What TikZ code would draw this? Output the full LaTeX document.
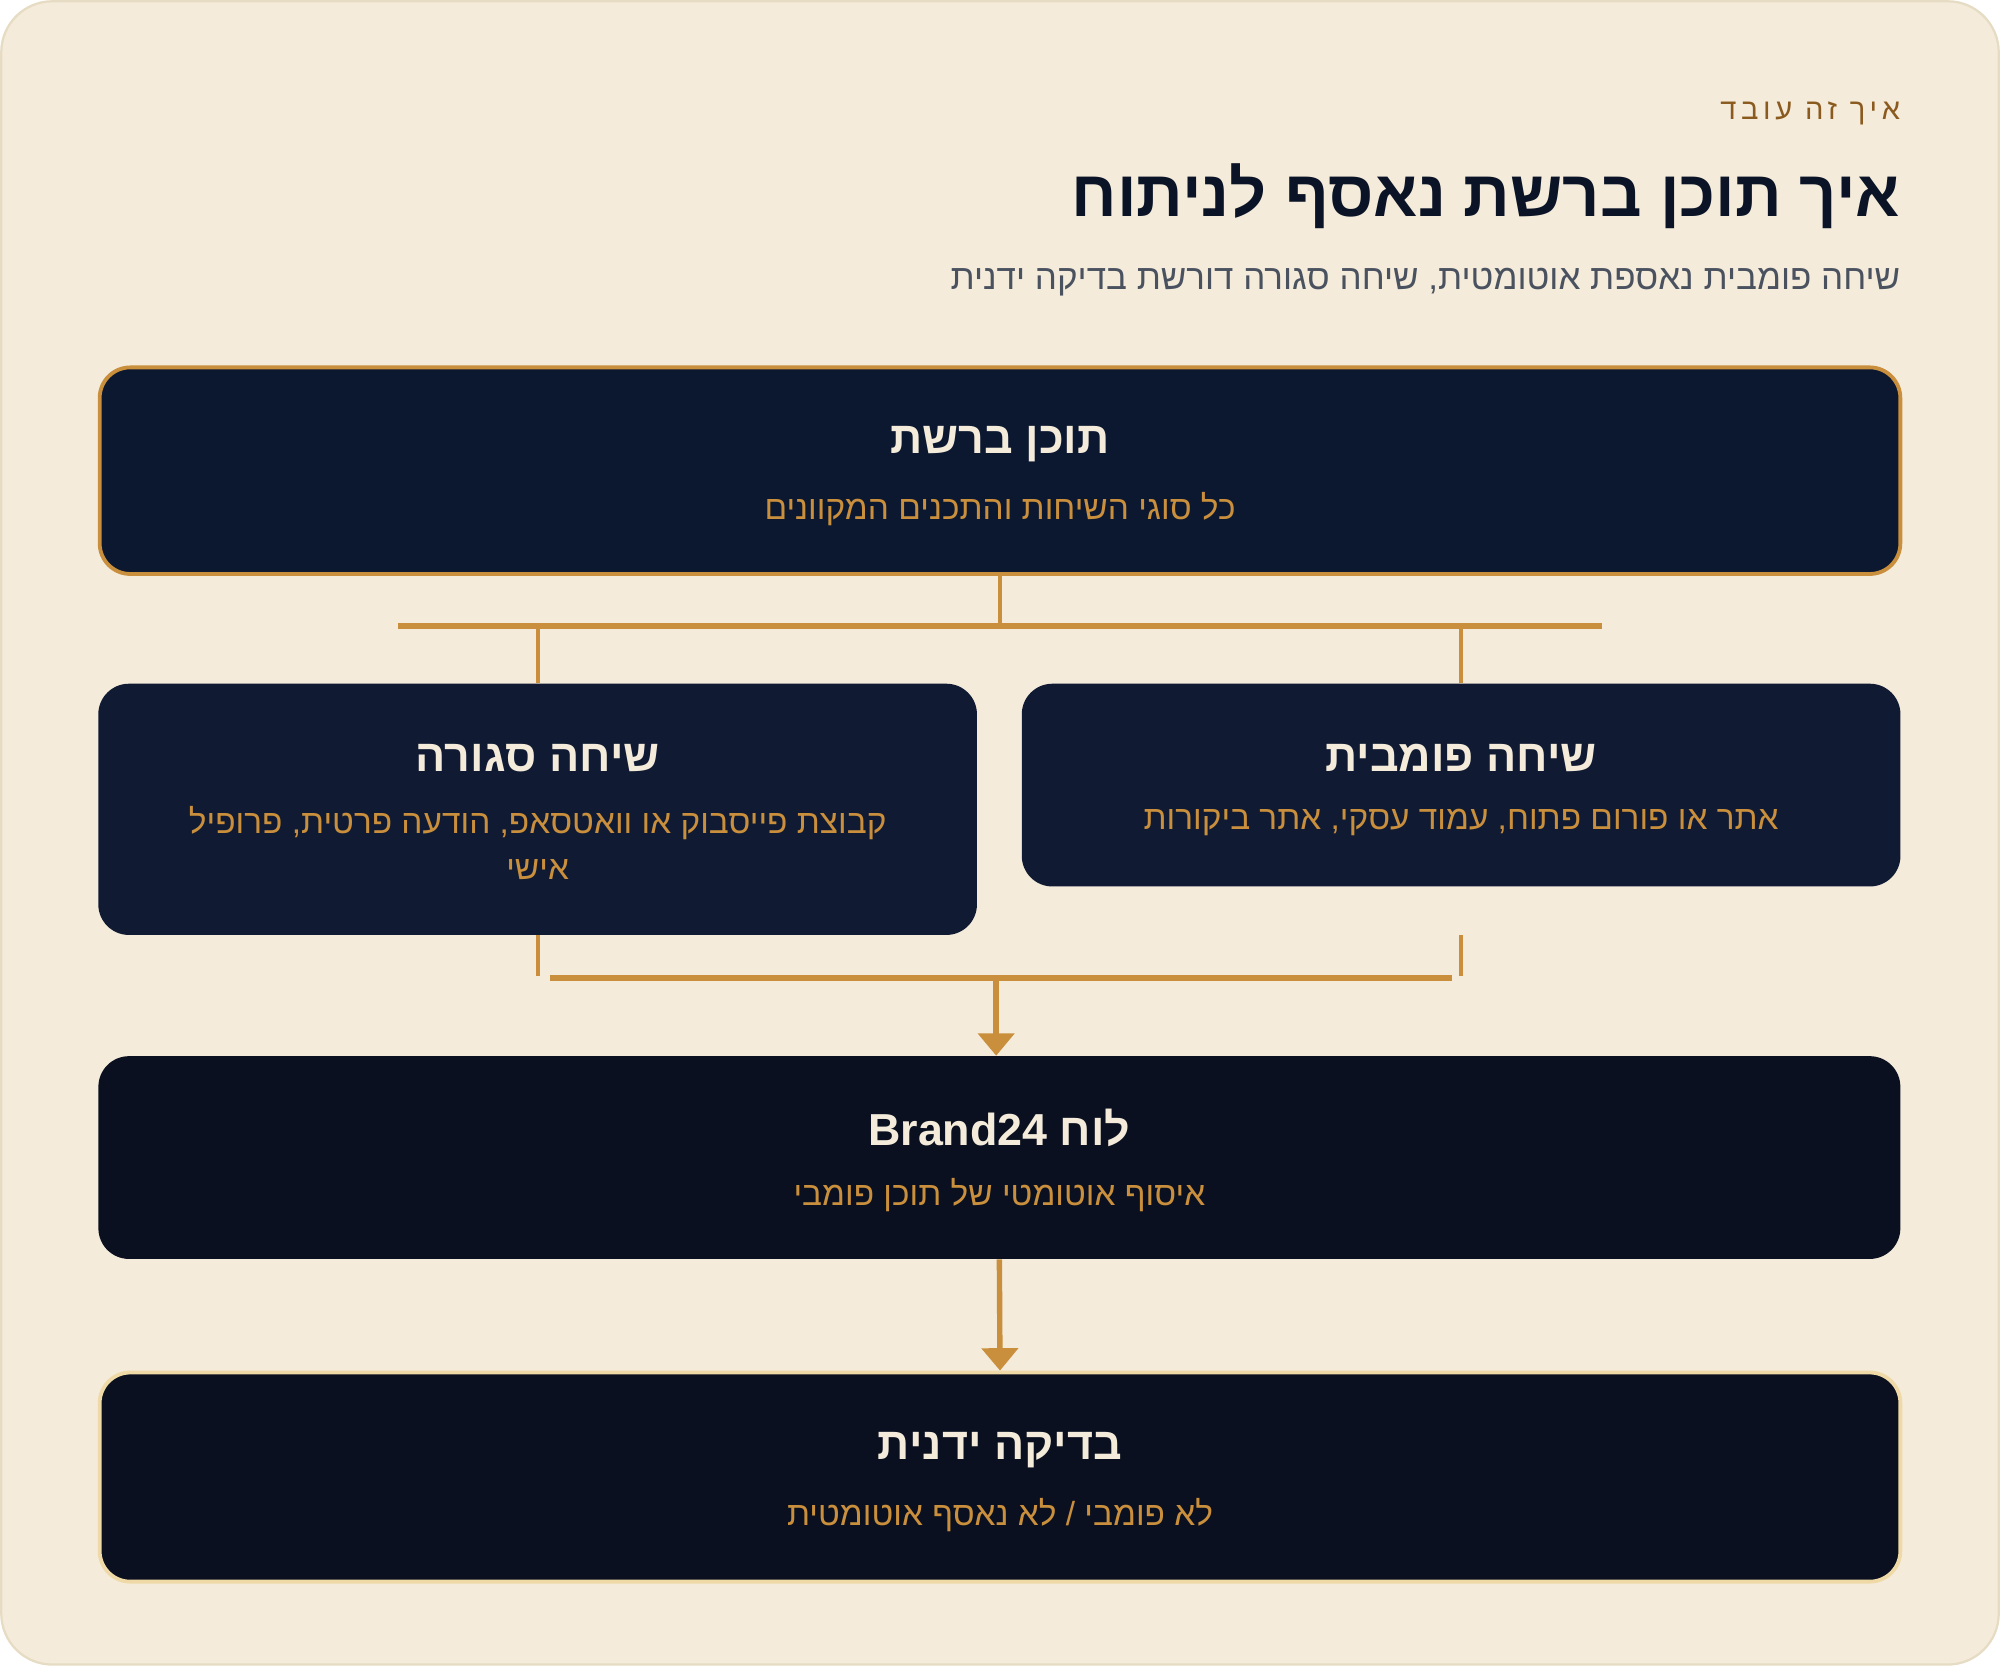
\documentclass[tikz,border=0pt]{standalone}
\usepackage{fontspec}
\setmainfont[Script=Hebrew]{Liberation Sans}
\usepackage{tikz}
\usetikzlibrary{positioning, calc, arrows.meta}
\TeXXeTstate=1
\definecolor{cardbg}{HTML}{F4EBDB}
\definecolor{cardline}{HTML}{E6DCC3}
\definecolor{navy}{HTML}{0B1426}
\definecolor{brownlbl}{HTML}{8B5A1E}
\definecolor{greytxt}{HTML}{4A5260}
\definecolor{gold}{HTML}{C98F3C}
\definecolor{cream}{HTML}{F4EBDB}
\definecolor{boxA}{HTML}{0C1830}
\definecolor{boxB}{HTML}{101B33}
\definecolor{boxC}{HTML}{0A101F}
\definecolor{paleline}{HTML}{EFD9A6}
\newcommand{\rtl}[1]{\beginR #1\endR}

\begin{document}
\begin{tikzpicture}[x=0.02cm, y=-0.02cm,
	box/.style={rounded corners=0.48cm, inner sep=0pt, minimum width=28.24cm, minimum height=3.2cm},
	halfbox/.style={box, minimum width=13.78cm},
	headtxt/.style={text=cream, font=\fontsize{20}{24}\selectfont\bfseries},
	subtxt/.style={text=gold, font=\fontsize{14.9}{21}\selectfont},
	stem/.style={draw=gold, line width=1.7pt},
	bar/.style={draw=gold, line width=2.8pt},
	flow/.style={draw=gold, line width=2.4pt, -{Triangle[width=16pt, length=10pt]}}]
	% card
	\useasboundingbox (0,0) rectangle (1568,1306);
	\draw[fill=cardbg, draw=cardline, line width=1pt, rounded corners=0.8cm] (1,1) rectangle (1567,1305);
	
	% heading
	\node[anchor=base east, inner sep=0pt, text=brownlbl, font=\fontsize{13}{16}\selectfont\addfontfeature{LetterSpace=16}] (kicker) at (1490,94) {\rtl{איך זה עובד}};
	\node[anchor=base east, inner sep=0pt, text=navy, font=\fontsize{29}{34}\selectfont\bfseries] (title) at (1490,170) {\rtl{איך תוכן ברשת נאסף לניתוח}};
	\node[anchor=base east, inner sep=0pt, text=greytxt, font=\fontsize{15.6}{19}\selectfont] (subtitle) at (1490,227) {\rtl{שיחה פומבית נאספת אוטומטית, שיחה סגורה דורשת בדיקה ידנית}};
	
	% boxes
	\node[box, fill=boxA, draw=gold, line width=1.7pt, minimum height=3.24cm] (web) at (784,369) {};
	\node[headtxt] (webT) at (784,348) {\rtl{תוכן ברשת}};
	\node[subtxt] (webS) at (784,399) {\rtl{כל סוגי השיחות והתכנים המקוונים}};
	
	\node[halfbox, fill=boxB, minimum height=3.94cm] (closed) at (421.5,634.5) {};
	\node[headtxt] (closedT) at (421.5,594) {\rtl{שיחה סגורה}};
	\node[subtxt] (closedS) at (421.5,645) {\rtl{קבוצת פייסבוק או וואטסאפ, הודעה פרטית, פרופיל}};
	\node[subtxt] (closedS2) at (421.5,682) {\rtl{אישי}};
	
	\node[halfbox, fill=boxB, minimum height=3.18cm] (public) at (1145.5,615.5) {};
	\node[headtxt] (publicT) at (1145.5,594) {\rtl{שיחה פומבית}};
	\node[subtxt] (publicS) at (1145.5,645) {\rtl{אתר או פורום פתוח, עמוד עסקי, אתר ביקורות}};
	
	\node[box, fill=boxC, minimum width=28.26cm, minimum height=3.18cm] (brand) at (783.5,907.5) {};
	\node[headtxt] (brandT) at (783.5,884) {\rtl{לוח \beginL Brand24\endL}};
	\node[subtxt] (brandS) at (783.5,937) {\rtl{איסוף אוטומטי של תוכן פומבי}};
	
	\node[box, fill=boxC, draw=paleline, line width=1.7pt, minimum height=3.28cm] (manual) at (784,1158) {};
	\node[headtxt] (manualT) at (784,1137) {\rtl{בדיקה ידנית}};
	\node[subtxt] (manualS) at (784,1188) {\rtl{לא פומבי / לא נאסף אוטומטית}};
	
	% split
	\coordinate (splitW) at (312,491);
	\coordinate (splitE) at (1256,491);
	\draw[stem] (web.south) -- (web.south |- splitW);
	\draw[bar] (splitW) -- (splitE);
	\draw[stem] (closed.north |- splitW) -- (closed.north);
	\draw[stem] (public.north |- splitW) -- (public.north);
	
	% merge
	\coordinate (mergeW) at (431,767);
	\coordinate (mergeE) at (1138,767);
	\coordinate (mergeC) at (781,767);
	\coordinate (publicLow) at (public.south |- closed.south);
	\draw[stem] (closed.south) -- ([yshift=1.2pt]closed.south |- mergeW);
	\draw[stem] (publicLow) -- ([yshift=1.2pt]publicLow |- mergeE);
	\draw[bar] (mergeW) -- (mergeE);
	\draw[flow] (mergeC) -- (mergeC |- brand.north);
	\draw[flow] (brand.south) -- (manual.north);
\end{tikzpicture}
\end{document}
